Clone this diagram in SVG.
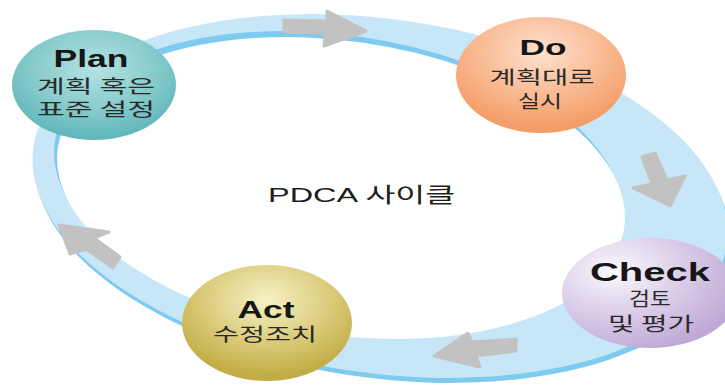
<svg xmlns="http://www.w3.org/2000/svg" width="725" height="385" viewBox="0 0 725 385">
  <style>
    .ring-edge { fill: #7fcbf0; }
    .ring-band { fill: #c7e7f8; }
    .ring-hole { fill: #ffffff; }
    .arrow { fill: #c2c2c2; stroke: #c2c2c2; stroke-width: 3; stroke-linejoin: round; }
    .title { font-family: "Liberation Sans", Arial, sans-serif; font-weight: bold; fill: #161616; text-anchor: middle; }
    .desc { font-family: "Noto Sans CJK KR", "Noto Sans", sans-serif; fill: #2a2a2a; text-anchor: middle; }
    .center { font-family: "Liberation Sans", "Noto Sans CJK KR", sans-serif; fill: #1e1e1e; }
  </style>
  <defs>
    <radialGradient id="gPlan" cx="0.5" cy="0.35" r="0.65">
      <stop offset="0" stop-color="#b4e2e2"/>
      <stop offset="0.6" stop-color="#86cacb"/>
      <stop offset="1" stop-color="#5db6b9"/>
    </radialGradient>
    <radialGradient id="gDo" cx="0.5" cy="0.3" r="0.65">
      <stop offset="0" stop-color="#fde2cf"/>
      <stop offset="0.55" stop-color="#f9bc95"/>
      <stop offset="1" stop-color="#f49d68"/>
    </radialGradient>
    <radialGradient id="gCheck" cx="0.3" cy="0.3" r="0.75">
      <stop offset="0" stop-color="#fbf8fd"/>
      <stop offset="0.5" stop-color="#dccfe9"/>
      <stop offset="1" stop-color="#bea9d5"/>
    </radialGradient>
    <radialGradient id="gAct" cx="0.5" cy="0.3" r="0.65">
      <stop offset="0" stop-color="#f6f2c6"/>
      <stop offset="0.55" stop-color="#dccd7e"/>
      <stop offset="1" stop-color="#c2ad45"/>
    </radialGradient>
  </defs>

  <!-- cycle ring: tilted band with a darker rim on its lower face -->
  <g id="connectors">
    <g id="ring">
      <ellipse class="ring-edge" cx="382" cy="201" rx="350" ry="177" transform="rotate(8 382 201)"/>
      <ellipse class="ring-band" cx="380" cy="196" rx="350" ry="177" transform="rotate(8 380 196)"/>
      <ellipse class="ring-edge" cx="338" cy="182" rx="286" ry="147" transform="rotate(8 338 182)"/>
      <ellipse class="ring-hole" cx="341" cy="188" rx="286" ry="147" transform="rotate(8 341 188)"/>
    </g>
    <!-- direction arrows along the ring -->
    <polygon class="arrow" points="284,20 327,21 327,11 366,31 324,46 325,33 284,32"/>
    <polygon class="arrow" points="642,157 655,153 667,180 685,176 670,206 633,188 652,184"/>
    <polygon class="arrow" points="516,339 472,342 468,333 434,356 480,367 476,356 516,351"/>
    <polygon class="arrow" points="59,225 109,232 94,238 120,257 113,268 86,249 70,254"/>
  </g>

  <g id="plan">
    <ellipse cx="94" cy="85" rx="82" ry="55" fill="url(#gPlan)"/>
    <text class="title" x="91" y="67" font-size="24" textLength="75" lengthAdjust="spacingAndGlyphs">Plan</text>
    <text class="desc" x="96" y="93" font-size="18" textLength="118" lengthAdjust="spacingAndGlyphs">계획 혹은</text>
    <text class="desc" x="96" y="116" font-size="18" textLength="118" lengthAdjust="spacingAndGlyphs">표준 설정</text>
  </g>

  <g id="do">
    <ellipse cx="541" cy="75" rx="85" ry="58" fill="url(#gDo)"/>
    <text class="title" x="543" y="55" font-size="22" textLength="47" lengthAdjust="spacingAndGlyphs">Do</text>
    <text class="desc" x="542" y="84" font-size="18" textLength="105" lengthAdjust="spacingAndGlyphs">계획대로</text>
    <text class="desc" x="540" y="108" font-size="18" textLength="44" lengthAdjust="spacingAndGlyphs">실시</text>
  </g>

  <g id="check">
    <ellipse cx="650" cy="293" rx="88" ry="55" fill="url(#gCheck)"/>
    <text class="title" x="650" y="281" font-size="26" textLength="120" lengthAdjust="spacingAndGlyphs">Check</text>
    <text class="desc" x="650" y="306" font-size="19" textLength="42" lengthAdjust="spacingAndGlyphs">검토</text>
    <text class="desc" x="651" y="331" font-size="19" textLength="86" lengthAdjust="spacingAndGlyphs">및 평가</text>
  </g>

  <g id="act">
    <ellipse cx="267" cy="323" rx="85" ry="58" fill="url(#gAct)"/>
    <text class="title" x="266" y="318" font-size="24" textLength="57" lengthAdjust="spacingAndGlyphs">Act</text>
    <text class="desc" x="265" y="341" font-size="18" textLength="104" lengthAdjust="spacingAndGlyphs">수정조치</text>
  </g>

  <g id="cycle-label">
    <text class="center" x="268" y="202" font-size="21" textLength="187" lengthAdjust="spacingAndGlyphs">PDCA 사이클</text>
  </g>
</svg>
